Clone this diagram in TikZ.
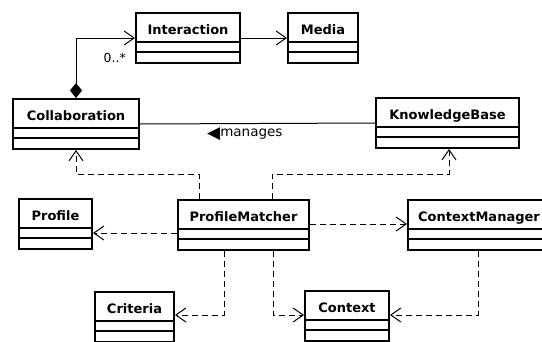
\documentclass[tikz,border=0pt]{standalone}
\usepackage{fontspec}
\setmainfont{DejaVu Sans}
\usetikzlibrary{arrows.meta}

\tikzset{
  umlclass/.style={
    draw, line width=2pt, anchor=north west,
    minimum width=#1, inner xsep=0pt, inner ysep=0pt,
    text height=21pt, text depth=29pt,
    font=\fontsize{13}{14}\selectfont\bfseries,
    path picture={
      \draw[line width=1.2pt]
        ([yshift=-29pt]path picture bounding box.north west) --
        ([yshift=-29pt]path picture bounding box.north east);
      \draw[line width=1.2pt]
        ([yshift=-39pt]path picture bounding box.north west) --
        ([yshift=-39pt]path picture bounding box.north east);
    }
  },
  assoc/.style={line width=1pt, -{Straight Barb[length=10pt,width=14pt]}},
  depend/.style={assoc, dash pattern=on 6pt off 4pt},
  plainline/.style={line width=1pt},
  lbl/.style={inner sep=0pt, font=\fontsize{13.5}{15}\selectfont},
}

\begin{document}
\begin{tikzpicture}[x=1pt, y=1pt]
  \useasboundingbox (0,0) rectangle (542,-341);

  % classes
  \node[umlclass=104pt] (inter)  at (135,-12)  {Interaction};
  \node[umlclass=70pt]  (media)  at (287,-12)  {Media};
  \node[umlclass=126pt] (collab) at (12,-98)   {Collaboration};
  \node[umlclass=143pt] (kb)     at (375,-97)  {KnowledgeBase};
  \node[umlclass=73pt]  (prof)   at (18,-198)  {Profile};
  \node[umlclass=131pt] (pm)     at (177,-199) {ProfileMatcher};
  \node[umlclass=142pt] (cm)     at (407,-199) {ContextManager};
  \node[umlclass=79pt]  (crit)   at (94,-291)  {Criteria};
  \node[umlclass=84pt]  (ctx)    at (304,-290) {Context};

  % composition and associations
  \draw[line width=1pt, {Diamond[length=15pt,width=12pt]}-{Straight Barb[length=10pt,width=14pt]}]
    (collab.north) |- (inter.west);
  \node[lbl, anchor=east, font=\fontsize{12.5}{14}\selectfont] (mult) at (126,-58) {0..*};
  \draw[assoc] (inter.east) -- (media.west);
  \draw[plainline] (collab.east) -- (kb.west);
  \node[lbl, anchor=west] (manages) at (207,-134)
    {\raisebox{-1.5pt}{\fontsize{17}{17}\selectfont ◀}manages};

  % dependencies of ProfileMatcher
  \draw[depend] ([xshift=-44.5pt]pm.north) -- ++(0,25) -| (collab.south);
  \draw[depend] ([xshift=28.5pt]pm.north) -- ++(0,25) -| ([xshift=1.5pt]kb.south);
  \draw[depend] ([yshift=-8pt]pm.west) -- ([yshift=-8pt]pm.west -| prof.east);
  \draw[depend] ([yshift=1pt]pm.east) -- ([yshift=1pt]pm.east -| cm.west);
  \draw[depend] ([xshift=-19.5pt]pm.south) |- ([yshift=2pt]crit.east);
  \draw[depend] ([xshift=29.5pt]pm.south) |- ([yshift=1pt]ctx.west);
  \draw[depend] ([xshift=-1pt]cm.south) |- ([yshift=1pt]ctx.east);
\end{tikzpicture}
\end{document}
